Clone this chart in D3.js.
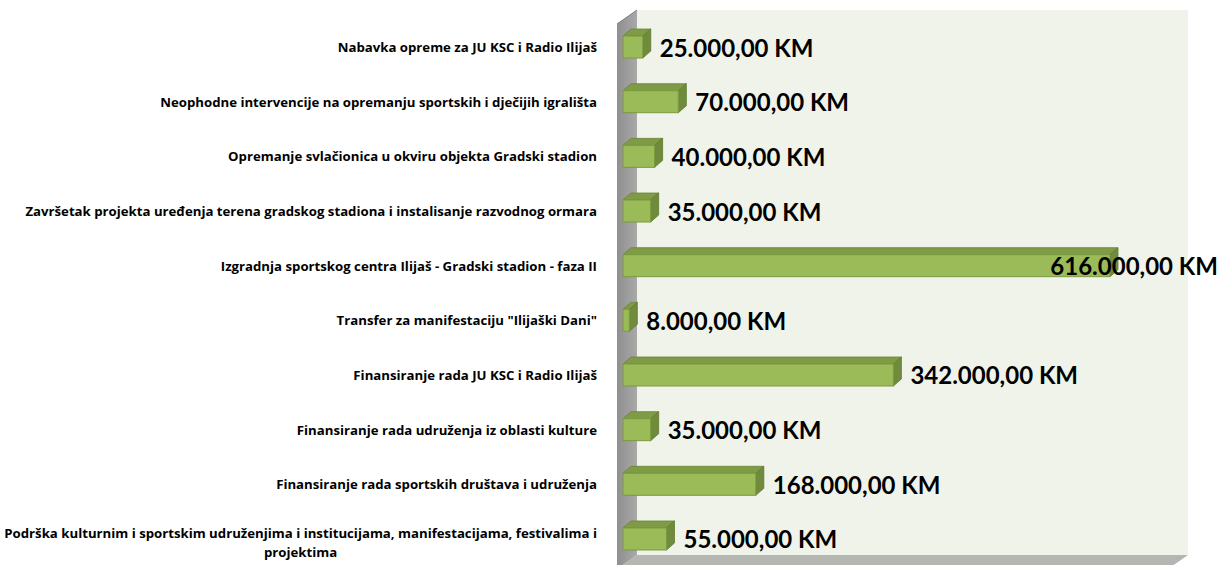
<!DOCTYPE html>
<html><head><meta charset="utf-8">
<script src="https://cdn.jsdelivr.net/npm/d3@7"></script>
<style>body{margin:0;background:#fff}svg{display:block}</style>
</head><body>
<svg id="chart" width="1220" height="565"></svg>
<script>
const categories = [
  "Nabavka opreme za JU KSC i Radio Ilijaš",
  "Neophodne intervencije na opremanju sportskih i dječijih igrališta",
  "Opremanje svlačionica u okviru objekta Gradski stadion",
  "Završetak projekta uređenja terena gradskog stadiona i instalisanje razvodnog ormara",
  "Izgradnja sportskog centra Ilijaš - Gradski stadion - faza II",
  "Transfer za manifestaciju \"Ilijaški Dani\"",
  "Finansiranje rada JU KSC i Radio Ilijaš",
  "Finansiranje rada udruženja iz oblasti kulture",
  "Finansiranje rada sportskih društava i udruženja ",
  "Podrška kulturnim i sportskim udruženjima i institucijama, manifestacijama, festivalima i|projektima"
];
const values = [25000, 70000, 40000, 35000, 616000, 8000, 342000, 35000, 168000, 55000];
const valueLabels = ["25.000,00 KM","70.000,00 KM","40.000,00 KM","35.000,00 KM","616.000,00 KM","8.000,00 KM","342.000,00 KM","35.000,00 KM","168.000,00 KM","55.000,00 KM"];

const svg = d3.select("#chart");
const W = 1220;
const dX = 20, dY = 14;            // wall depth
const wall = {x0: 637, x1: 1188, y0: 10, y1: 555};
const bx = 8, by = 7, bh = 22;     // bar depth and thickness

const x = d3.scaleLinear().domain([0, 700000]).range([623, 1176.4]);
const y = d3.scaleBand().domain(d3.range(categories.length)).range([19.7, 566.3]).padding(0);

const defs = svg.append("defs");
const g1 = defs.append("linearGradient").attr("id","lw").attr("x1","0").attr("x2","1");
g1.append("stop").attr("offset","0").attr("stop-color","#8f8f8f");
g1.append("stop").attr("offset","1").attr("stop-color","#a9a9a9");

// back wall
svg.append("rect").attr("x",wall.x0).attr("y",wall.y0).attr("width",wall.x1-wall.x0).attr("height",wall.y1-wall.y0).attr("fill","#eff3ea");
// floor
svg.append("polygon").attr("points",[[wall.x0,wall.y1],[wall.x1,wall.y1],[wall.x1-dX,wall.y1+dY],[wall.x0-dX,wall.y1+dY]].join(" ")).attr("fill","#b4b6b1");
// left wall
svg.append("polygon").attr("points",[[wall.x0-dX,wall.y0+dY],[wall.x0,wall.y0],[wall.x0,wall.y1],[wall.x0-dX,wall.y1+dY]].join(" ")).attr("fill","url(#lw)");
svg.append("line").attr("x1",wall.x0-dX).attr("y1",wall.y0+dY).attr("x2",wall.x0).attr("y2",wall.y0).attr("stroke","#7f7f7f").attr("stroke-width",1);

// bars
const bars = svg.append("g");
categories.forEach((c, i) => {
  const cy = y(i) + y.bandwidth()/2;
  const x0 = x(0), x1 = x(values[i]);
  const top = cy - bh/2, bot = cy + bh/2;
  const g = bars.append("g");
  g.append("polygon").attr("points",[[x0,top],[x0+bx,top-by],[x1+bx,top-by],[x1,top]].join(" "))
    .attr("fill","#7f9b45").attr("stroke","#6a8535").attr("stroke-width",0.8);
  g.append("polygon").attr("points",[[x1,top],[x1+bx,top-by],[x1+bx,bot-by],[x1,bot]].join(" "))
    .attr("fill","#6f8b3b").attr("stroke","#5f7a2f").attr("stroke-width",0.8);
  g.append("rect").attr("x",x0).attr("y",top).attr("width",Math.max(0,x1-x0)).attr("height",bh)
    .attr("fill","#9bbb59").attr("stroke","#7a9a3e").attr("stroke-width",1);
});

// value labels
const vl = svg.append("g").attr("font-family","Lato, 'Open Sans', sans-serif").attr("font-weight","bold").attr("font-size",24).attr("fill","#000");
valueLabels.forEach((t, i) => {
  const cy = y(i) + y.bandwidth()/2;
  const tx = vl.append("text").attr("y", cy).attr("dominant-baseline","central").text(t);
  const w = tx.node().getComputedTextLength();
  let sx = x(values[i]) + bx + 9;
  if (sx + w > W - 2) sx = W - 2 - w;
  tx.attr("x", sx);
});

// category labels (font size fitted so the longest label spans like the reference)
const cl = svg.append("g").attr("font-family","'Open Sans', sans-serif").attr("font-weight","bold").attr("font-size",12).attr("fill","#000");
const probe = cl.append("text").text(categories[3]);
const fs = 12 * 572 / probe.node().getComputedTextLength();
probe.remove();
cl.attr("font-size", fs);
const rightEdge = 597;
categories.forEach((c, i) => {
  const cy = y(i) + y.bandwidth()/2;
  const lines = c.split("|");
  if (lines.length === 1) {
    cl.append("text").attr("x", rightEdge).attr("y", cy).attr("dominant-baseline","central").attr("text-anchor","end").text(lines[0]);
  } else {
    const t1 = cl.append("text").attr("x", rightEdge).attr("y", cy - 6).attr("dominant-baseline","central").attr("text-anchor","end").text(lines[0]);
    const w1 = t1.node().getComputedTextLength();
    cl.append("text").attr("x", rightEdge - w1/2).attr("y", cy + 13).attr("dominant-baseline","central").attr("text-anchor","middle").text(lines[1]);
  }
});
</script>
</body></html>
